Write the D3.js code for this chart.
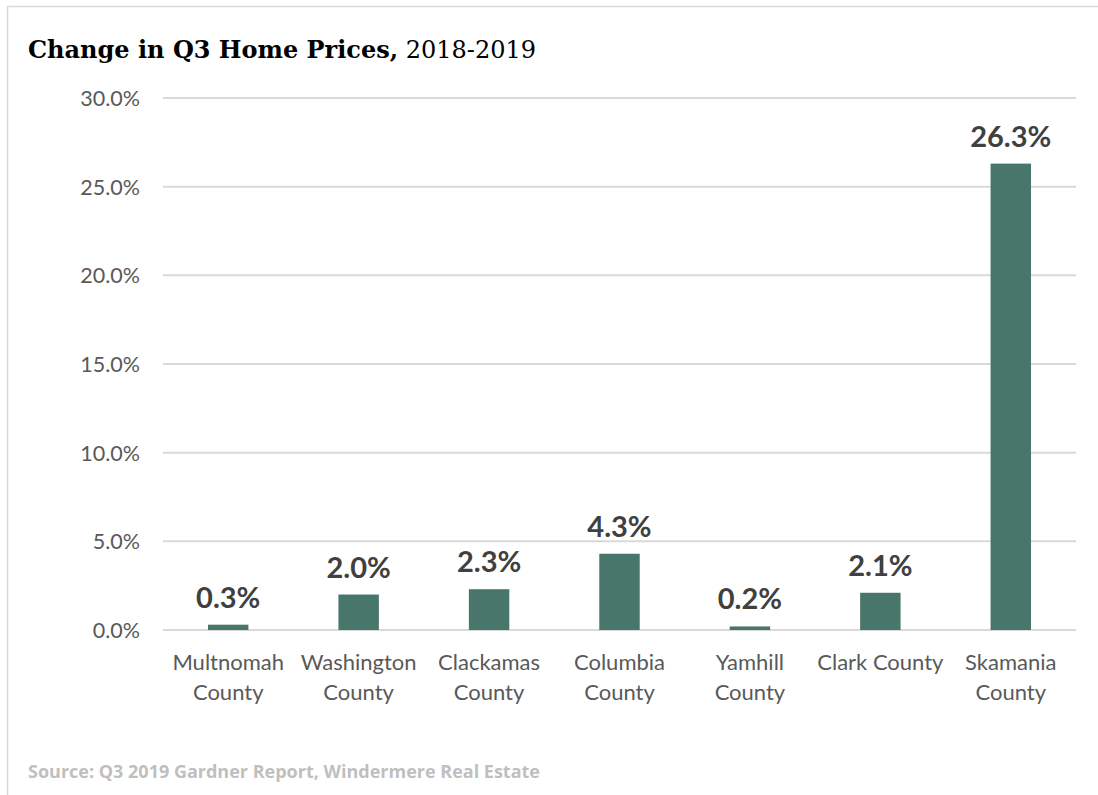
<!DOCTYPE html>
<html><head><meta charset="utf-8">
<script src="https://cdn.jsdelivr.net/npm/d3@7"></script>
<style>body{margin:0;background:#fff;}svg{display:block;}</style>
</head><body>
<svg id="c" width="1098" height="795"></svg>
<script>
const categories = [["Multnomah","County"],["Washington","County"],["Clackamas","County"],["Columbia","County"],["Yamhill","County"],["Clark County"],["Skamania","County"]];
const values = [0.3, 2.0, 2.3, 4.3, 0.2, 2.1, 26.3];
const yTicks = [0, 5, 10, 15, 20, 25, 30];

const svg = d3.select("#c");
// frame
svg.append("path").attr("d","M7.5,795 L7.5,6.5 L1098,6.5").attr("fill","none").attr("stroke","#d9d9d9").attr("stroke-width",1.5);

const x = d3.scaleBand().domain(d3.range(categories.length)).range([163,1076]).paddingInner(0.69).paddingOuter(0.345);
const y = d3.scaleLinear().domain([0,30]).range([630,98]);

const sans = "Lato, 'Open Sans', sans-serif";
// gridlines
svg.append("g").selectAll("line").data(yTicks).join("line")
  .attr("x1",163).attr("x2",1076).attr("y1",d=>y(d)).attr("y2",d=>y(d))
  .attr("stroke","#d9d9d9").attr("stroke-width",2);
// y labels
const yAxis = d3.axisLeft(y).tickValues(yTicks).tickFormat(d=>d.toFixed(1)+"%").tickSize(0).tickPadding(0);
const ga = svg.append("g").attr("transform","translate(140,0)").call(yAxis);
ga.select(".domain").remove();
ga.selectAll("text").attr("fill","#595959").style("font-family",sans).style("font-size","21.5px").attr("dy","0.35em");

// bars
svg.append("g").selectAll("rect").data(values).join("rect")
  .attr("x",(d,i)=>x(i)).attr("width",x.bandwidth())
  .attr("y",d=>y(d)).attr("height",d=>y(0)-y(d)).attr("fill","#48766a");
// data labels
svg.append("g").selectAll("text").data(values).join("text")
  .attr("x",(d,i)=>x(i)+x.bandwidth()/2).attr("y",d=>y(d)-17)
  .attr("text-anchor","middle").attr("fill","#404040")
  .style("font-family",sans).style("font-size","29px").style("font-weight","bold")
  .text(d=>d.toFixed(1)+"%");
// category labels
const cl = svg.append("g").selectAll("text").data(categories).join("text")
  .attr("x",(d,i)=>x(i)+x.bandwidth()/2).attr("y",670)
  .attr("text-anchor","middle").attr("fill","#595959")
  .style("font-family",sans).style("font-size","22px");
cl.selectAll("tspan").data(d=>d).join("tspan")
  .attr("x",function(){return this.parentNode.getAttribute("x");})
  .attr("dy",(d,i)=>i===0?0:30).text(d=>d);

// title
const t = svg.append("text").attr("x",28).attr("y",58).attr("fill","#000")
  .style("font-family","'DejaVu Serif', 'Liberation Serif', serif").style("font-size","24px");
t.append("tspan").style("font-weight","bold").text("Change in Q3 Home Prices,");
t.append("tspan").text(" 2018-2019");

// source
svg.append("text").attr("x",28).attr("y",778).attr("fill","#bfbfbf")
  .style("font-family","'Open Sans', sans-serif").style("font-size","18px").style("font-weight","bold")
  .text("Source: Q3 2019 Gardner Report, Windermere Real Estate");
</script>
</body></html>
